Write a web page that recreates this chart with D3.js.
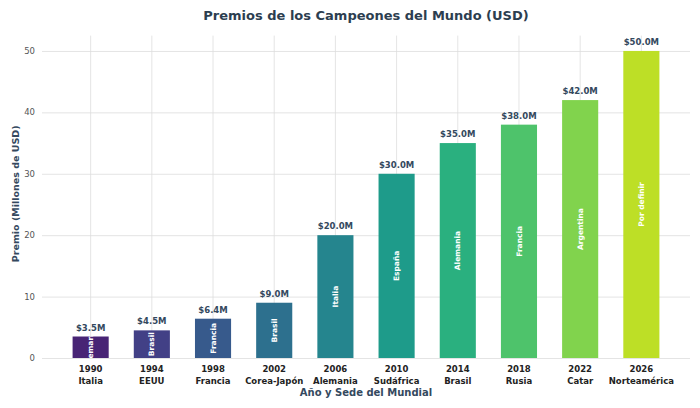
<!DOCTYPE html>
<html><head><meta charset="utf-8">
<script src="https://cdn.jsdelivr.net/npm/d3@7"></script>
<style>body{margin:0;background:#fff;} svg{display:block;font-family:"DejaVu Sans",sans-serif;}</style>
</head><body><svg id="c" width="700" height="408"></svg>
<script>
const years = ["1990","1994","1998","2002","2006","2010","2014","2018","2022","2026"];
const hosts = ["Italia","EEUU","Francia","Corea-Japón","Alemania","Sudáfrica","Brasil","Rusia","Catar","Norteamérica"];
const champions = ["Alemania","Brasil","Francia","Brasil","Italia","España","Alemania","Francia","Argentina","Por definir"];
const prizes = [3.5,4.5,6.4,9.0,20.0,30.0,35.0,38.0,42.0,50.0];
const yTicks = [0,10,20,30,40,50];

const svg = d3.select("#c");
const yTop = 35.6;
const x0 = 42, x1 = 690, yBot = 358;
const x = d3.scaleBand().domain(years).range([x0, x1]).paddingInner(0.41).paddingOuter(0.5);
const y = d3.scaleLinear().domain([0, 52.5]).range([yBot, yTop]);
const colors = years.map((d,i)=>d3.interpolateViridis(0.1 + 0.8*i/(years.length-1)));

// grid
const g = svg.append("g");
g.append("g").attr("transform",`translate(0,${yBot})`)
  .call(d3.axisBottom(x).tickSize(-(yBot-yTop)).tickFormat(""))
  .call(a=>a.select(".domain").remove())
  .call(a=>a.selectAll("line").attr("stroke","#dddddd").attr("stroke-width",0.8));
g.append("g").attr("transform",`translate(${x0},0)`)
  .call(d3.axisLeft(y).tickValues(yTicks).tickSize(-(x1-x0)).tickFormat(""))
  .call(a=>a.select(".domain").remove())
  .call(a=>a.selectAll("line").attr("stroke","#dddddd").attr("stroke-width",0.8));

// y tick labels
svg.append("g").selectAll("text").data(yTicks).join("text")
  .attr("x", 35).attr("y", d=>y(d)).attr("dy","0.35em")
  .attr("text-anchor","end").attr("font-size",8.5).attr("fill","#555")
  .text(d=>d);

// bars
const defs = svg.append("defs");
years.forEach((d,i)=>{
  defs.append("clipPath").attr("id","clip"+i).append("rect")
    .attr("x",x(d)).attr("y",y(prizes[i])).attr("width",x.bandwidth()).attr("height",yBot-y(prizes[i]));
});
svg.append("g").selectAll("rect").data(years).join("rect")
  .attr("x",d=>x(d)).attr("y",(d,i)=>y(prizes[i]))
  .attr("width",x.bandwidth()).attr("height",(d,i)=>yBot-y(prizes[i]))
  .attr("fill",(d,i)=>colors[i]);

// value labels
svg.append("g").selectAll("text").data(years).join("text")
  .attr("x",d=>x(d)+x.bandwidth()/2).attr("y",(d,i)=>y(prizes[i])-6)
  .attr("text-anchor","middle").attr("font-size",8.5).attr("font-weight","bold").attr("fill","#34495e")
  .text((d,i)=>"$"+prizes[i].toFixed(1)+"M");

// champion labels inside bars
svg.append("g").selectAll("g").data(years).join("g")
  .attr("clip-path",(d,i)=>`url(#clip${i})`)
  .append("text")
  .attr("transform",(d,i)=>`translate(${x(d)+x.bandwidth()/2},${(y(prizes[i])+yBot)/2}) rotate(-90)`)
  .attr("text-anchor","middle").attr("dy","0.35em")
  .attr("font-size",7.5).attr("font-weight","bold").attr("fill","#fff")
  .text((d,i)=>champions[i]);

// x tick labels
const xl = svg.append("g").selectAll("text").data(years).join("text")
  .attr("text-anchor","middle").attr("font-size",8.5).attr("font-weight","bold").attr("fill","#222");
xl.append("tspan").attr("x",d=>x(d)+x.bandwidth()/2).attr("y",372).text(d=>d);
xl.append("tspan").attr("x",d=>x(d)+x.bandwidth()/2).attr("y",384).text((d,i)=>hosts[i]);

// axis titles
svg.append("text").attr("x",(x0+x1)/2).attr("y",396).attr("text-anchor","middle")
  .attr("font-size",10).attr("font-weight","bold").attr("fill","#34495e").text("Año y Sede del Mundial");
svg.append("text").attr("transform",`translate(19,${(yBot+yTop)/2 - 3}) rotate(-90)`).attr("text-anchor","middle")
  .attr("font-size",9.5).attr("font-weight","bold").attr("fill","#34495e").text("Premio (Millones de USD)");
svg.append("text").attr("x",(x0+x1)/2).attr("y",19.5).attr("text-anchor","middle")
  .attr("font-size",13).attr("font-weight","bold").attr("fill","#2c3e50").text("Premios de los Campeones del Mundo (USD)");
</script></body></html>
